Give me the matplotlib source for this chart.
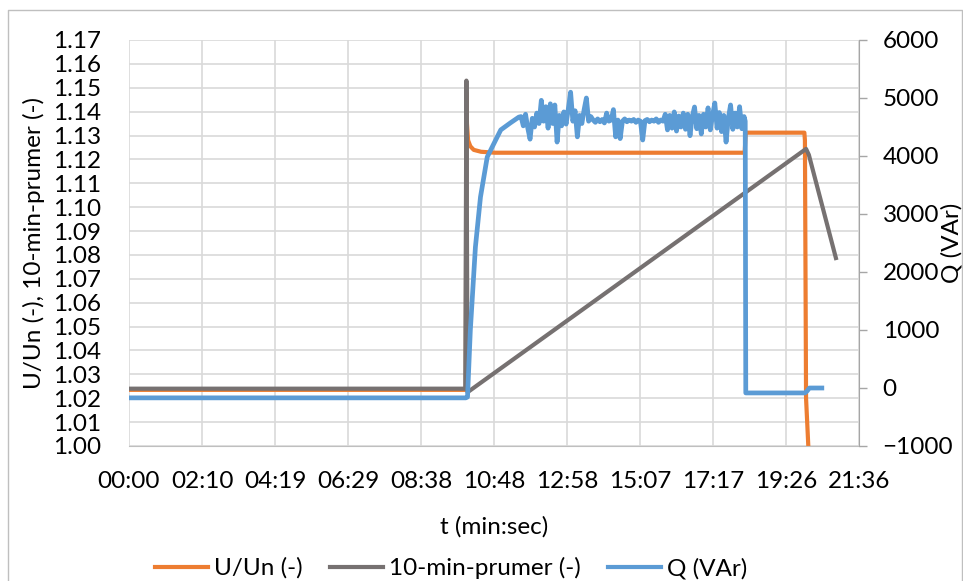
import matplotlib.pyplot as plt
import numpy as np
from matplotlib.lines import Line2D

# time in seconds
x_ticks = [0, 129.6, 259.2, 388.8, 518.4, 648, 777.6, 907.2, 1036.8, 1166.4, 1296]
x_labels = ["00:00", "02:10", "04:19", "06:29", "08:38", "10:48",
            "12:58", "15:07", "17:17", "19:26", "21:36"]

# U/Un (-)
u_t = [0, 598, 599, 600, 602, 606, 612, 625, 650, 1093, 1095, 1199, 1200, 1202, 1206]
u_val = [1.0235, 1.0235, 1.148, 1.135, 1.128, 1.1255, 1.124, 1.1232, 1.1228,
         1.1228, 1.1312, 1.1312, 1.128, 1.02, 1.0]

# 10-min-prumer (-)
m_t = [0, 597, 599, 601, 1202, 1207, 1255]
m_val = [1.024, 1.024, 1.153, 1.0225, 1.1244, 1.1219, 1.0787]

# Q (VAr)
q_t_start = [0, 598, 601, 606, 615, 624, 636, 651, 660, 677, 692]
q_start = [-170, -170, -155, 1000, 2431, 3293, 3983, 4276, 4450, 4570, 4670]
q_t0 = 696
q_dt = 4
q_noise = [4680, 4520, 4720, 4480, 4290, 4650, 4500, 4740, 4560, 4960,
           4600, 4850, 4480, 4900, 4560, 4880, 4240, 4700, 4520,
           4760, 4550, 4820, 5100, 4600, 4780, 4330, 4700, 4560, 4800, 5000, 4600, 4680,
           4620, 4580, 4640, 4590, 4630, 4570, 4740, 4600, 4620, 4800, 4330, 4620,
           4300, 4600, 4640, 4590, 4620, 4600, 4630, 4580, 4620, 4600, 4276, 4610,
           4630, 4590, 4620, 4600, 4640, 4580, 4620, 4600,
           4720, 4450, 4700, 4480, 4760, 4430, 4690, 4500, 4740, 4460, 4720, 4350,
           4680, 4845, 4470, 4700, 4380, 4720, 4500, 4830, 4450, 4700, 4914, 4480,
           4750, 4420, 4700, 4240, 4650, 4880, 4460, 4740, 4500, 4850, 4470, 4680]
q_t_end = [1094, 1095, 1200, 1204, 1208, 1230]
q_end = [4600, -85, -85, -50, 0, 0]

orange = "#ED7D31"
gray = "#767171"
blue = "#5B9BD5"
grid_c = "#D9D9D9"
fs = 17.5
lw = 3.0

plt.rcParams["font.family"] = ["Lato", "DejaVu Sans"]

q_t = q_t_start + [q_t0 + q_dt * i for i in range(len(q_noise))] + q_t_end
q_val = q_start + q_noise + q_end

fig = plt.figure(figsize=(9.63, 5.81), dpi=100)
ax = fig.add_axes([129 / 963, 1 - 446 / 581, 730 / 963, 406 / 581])
ax2 = ax.twinx()

ax.plot(u_t, u_val, color=orange, lw=lw, solid_capstyle="round", label="U/Un (-)")
ax.plot(m_t, m_val, color=gray, lw=lw, solid_joinstyle="round", label="10-min-prumer (-)")
ax2.plot(q_t, q_val, color=blue, lw=3.4, solid_joinstyle="round", label="Q (VAr)")

ax.set_xlim(0, 1296)
ax.set_ylim(1.0, 1.17)
ax.set_yticks(np.round(np.arange(1.0, 1.1701, 0.01), 2))
ax.set_yticklabels([f"{v:.2f}" for v in np.arange(1.0, 1.1701, 0.01)])
ax.set_xticks(x_ticks)
ax.set_xticklabels(x_labels)
ax2.set_ylim(-1000, 6000)
ax2.set_yticks(range(-1000, 6001, 1000))

ax.grid(True, color=grid_c, lw=1.2)
ax.set_axisbelow(True)
for s in ["top", "left", "right"]:
    ax.spines[s].set_visible(False)
    ax2.spines[s].set_visible(False)
ax.spines["bottom"].set_color("#BFBFBF")
ax2.spines["bottom"].set_visible(False)
ax2.spines["right"].set_visible(True)
ax2.spines["right"].set_color("#A6A6A6")

ax.tick_params(axis="y", length=0, pad=20, labelsize=fs)
ax.tick_params(axis="x", length=0, pad=18, labelsize=fs)
ax2.tick_params(axis="y", length=6, width=1, color="#A6A6A6", pad=11, labelsize=fs)

ax.set_ylabel("U/Un (-), 10-min-prumer (-)", fontsize=fs, labelpad=6)
ax.set_xlabel("t (min:sec)", fontsize=fs, labelpad=17)
fig.text(952 / 963, 1 - 243 / 581, "Q (VAr)", fontsize=fs, rotation=90,
         ha="center", va="center")

handles = [Line2D([], [], color=orange, lw=lw),
           Line2D([], [], color=gray, lw=lw),
           Line2D([], [], color=blue, lw=lw)]
fig.legend(handles, ["U/Un (-)", "10-min-prumer (-)", "Q (VAr)"], ncol=3,
           loc="center", bbox_to_anchor=(451 / 963, 1 - 568 / 581), frameon=False,
           fontsize=fs, handlelength=2.2, handletextpad=0.25, columnspacing=1.1,
           borderpad=0, borderaxespad=0)

# chart area border
fig.add_artist(Line2D([8 / 963, 8 / 963, 962 / 963, 962 / 963],
                      [0, 1 - 10 / 581, 1 - 10 / 581, 0],
                      transform=fig.transFigure, color="#BFBFBF", lw=1))

fig.savefig("out.png", dpi=100)
